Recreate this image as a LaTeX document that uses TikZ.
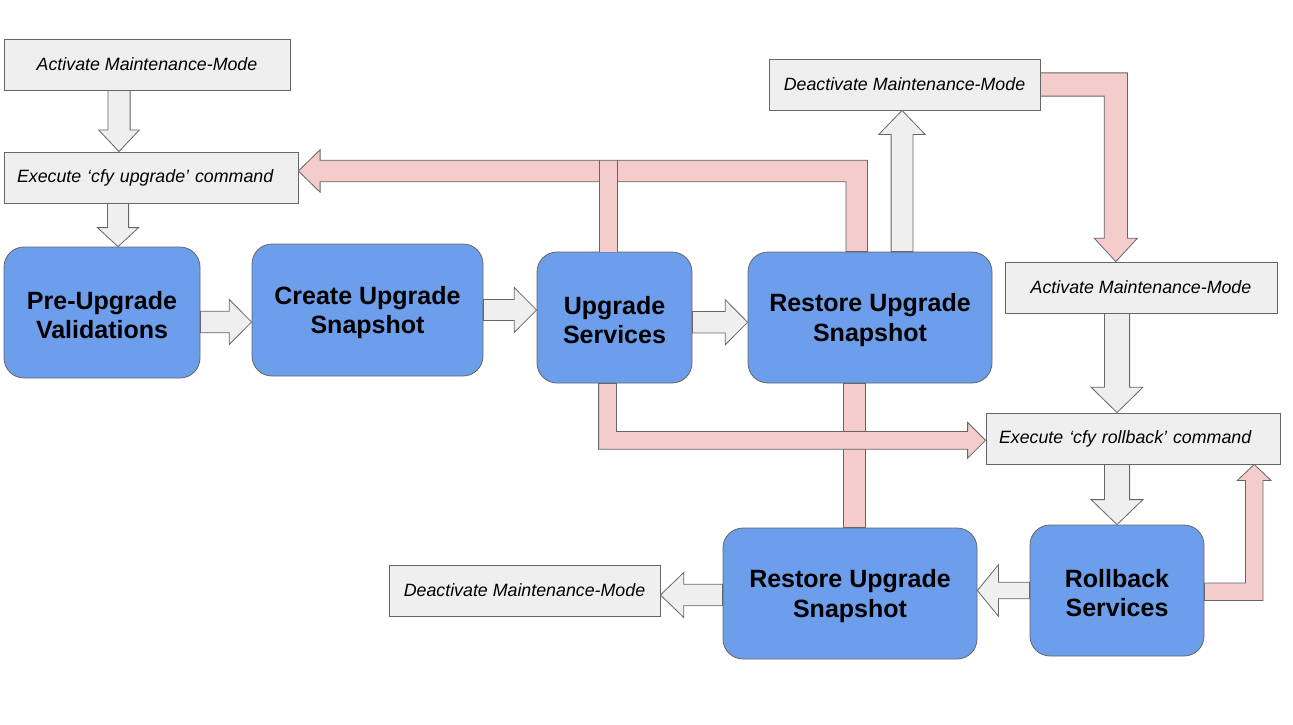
\documentclass[tikz,border=0pt]{standalone}
\usepackage{fontspec}
\setmainfont{Liberation Sans}
\usetikzlibrary{calc}

\definecolor{boxgrey}{HTML}{EFEFEF}
\definecolor{edgegrey}{HTML}{666666}
\definecolor{stepblue}{HTML}{6D9EEB}
\definecolor{failpink}{HTML}{F4CCCC}

\newcommand\bluestrut{\rule{0pt}{23pt}}

\tikzset{
  greybox/.style={draw=edgegrey, fill=boxgrey, line width=0.8pt, minimum height=51pt, inner sep=0pt,
    font=\fontsize{17.8}{21}\selectfont\itshape},
  cmdbox/.style={greybox, text width=268pt, inner xsep=13pt, align=left},
  bluebox/.style={draw=edgegrey, fill=stepblue, line width=0.8pt, rounded corners=20pt, minimum height=131pt,
    inner sep=0pt, align=center, font=\fontsize{25}{29.5}\selectfont\bfseries},
  blockedge/.style={draw=edgegrey, line width=0.8pt}
}

% straight block arrow: fill, half shaft, half head, head length, start, end
\newcommand\blockarrow[6]{%
  \coordinate (arS) at #5; \coordinate (arT) at #6;
  \coordinate (arH) at ($(arT)!#4pt!(arS)$);
  \draw[blockedge, fill=#1] ($(arS)!#2pt!90:(arT)$) -- ($(arH)!#2pt!90:(arT)$) -- ($(arH)!#3pt!90:(arT)$)
    -- (arT) -- ($(arH)!#3pt!-90:(arT)$) -- ($(arH)!#2pt!-90:(arT)$) -- ($(arS)!#2pt!-90:(arT)$) -- cycle;}
% bent block arrow: fill, half shaft, half head, head length, start, corner, end
\newcommand\bentarrow[7]{%
  \coordinate (arS) at #5; \coordinate (arK) at #6; \coordinate (arT) at #7;
  \coordinate (arH) at ($(arT)!#4pt!(arK)$);
  \draw[blockedge, fill=#1] ($(arS)!#2pt!90:(arK)$)
    -- ($(arK)!#2pt!90:(arT) + (arS)!#2pt!90:(arK) - (arS)$)
    -- ($(arH)!#2pt!90:(arT)$) -- ($(arH)!#3pt!90:(arT)$) -- (arT)
    -- ($(arH)!#3pt!-90:(arT)$) -- ($(arH)!#2pt!-90:(arT)$)
    -- ($(arK)!#2pt!-90:(arT) + (arS)!#2pt!-90:(arK) - (arS)$)
    -- ($(arS)!#2pt!-90:(arK)$) -- cycle;}

\begin{document}
\begin{tikzpicture}[x=1pt,y=1pt,yscale=-1]
        \useasboundingbox (0,0) rectangle (1293,725);

        %Shape: Rectangle
        \node[greybox, minimum width=286pt] (act1) at (147,64.5) {Activate Maintenance-Mode};
        \node[cmdbox] (exe1) at (151,177.5) {Execute ‘cfy upgrade’ command};
        \node[greybox, minimum width=271pt] (deact1) at (904.5,84.5) {Deactivate Maintenance-Mode};
        \node[greybox, minimum width=272pt] (act2) at (1141,287.5) {Activate Maintenance-Mode};
        \node[cmdbox] (exe2) at (1133,438.5) {Execute ‘cfy rollback’ command};
        \node[greybox, minimum width=271pt] (deact2) at (524.5,590.5) {Deactivate Maintenance-Mode};

        %Shape: Rounded Rectangle
        \node[bluebox, minimum width=196pt] (pre) at (102,312.5) {\bluestrut Pre-Upgrade\\Validations};
        \node[bluebox, minimum width=231pt, minimum height=132pt] (create) at (367.5,310) {\bluestrut Create Upgrade\\Snapshot};
        \node[bluebox, minimum width=155pt] (upg) at (614.5,317.5) {\bluestrut Upgrade\\Services};
        \node[bluebox, minimum width=244pt] (rest1) at (870,317.5) {\bluestrut Restore Upgrade\\Snapshot};
        \node[bluebox, minimum width=254pt] (rest2) at (850,593.5) {\bluestrut Restore Upgrade\\Snapshot};
        \node[bluebox, minimum width=174pt] (roll) at (1117,590.5) {\bluestrut Rollback\\Services};

        %Straight Lines: upgrade path
        \blockarrow{boxgrey}{11.1}{20.4}{21.7}{([xshift=-28pt]act1.south)}{([xshift=-28pt]act1.south |- exe1.north)}
        \blockarrow{boxgrey}{10.6}{20.6}{19}{([xshift=-33pt]exe1.south)}{([xshift=-33pt]exe1.south |- pre.north)}
        \blockarrow{boxgrey}{10.75}{22.6}{22.4}{([yshift=9.5pt]pre.east)}{([yshift=9.5pt]pre.east -| create.west)}
        \blockarrow{boxgrey}{10.45}{22.4}{22.3}{(create.east)}{(create.east -| upg.west)}
        \blockarrow{boxgrey}{10.75}{22.6}{22.4}{([yshift=4.7pt]upg.east)}{([yshift=4.7pt]upg.east -| rest1.west)}
        \blockarrow{boxgrey}{10.9}{23.1}{24}{([xshift=32pt]rest1.north)}{([xshift=32pt]rest1.north |- deact1.south)}

        %Straight Lines: rollback path
        \blockarrow{boxgrey}{12.6}{25.9}{25.4}{([xshift=-24pt]act2.south)}{([xshift=-24pt]act2.south |- exe2.north)}
        \blockarrow{boxgrey}{12.6}{25.9}{25}{([xshift=-16pt]exe2.south)}{([xshift=-16pt]exe2.south |- roll.north)}
        \blockarrow{boxgrey}{8.25}{25.8}{21}{(roll.west)}{(roll.west -| rest2.east)}
        \blockarrow{boxgrey}{10.75}{22.45}{23.3}{([yshift=1.5pt]rest2.west)}{([yshift=1.5pt]rest2.west -| deact2.east)}

        %Bent Lines: failure path
        \coordinate (bandL) at ([yshift=-6.5pt]exe1.east);
        \coordinate (actIn) at ([xshift=-25.2pt]act2.north);
        \coordinate (exeInL) at ([yshift=1.8pt]exe2.west);
        \coordinate (exeInB) at ([xshift=121.2pt]exe2.south);

        \bentarrow{failpink}{10.8}{21.25}{21.7}{([xshift=-13.3pt]rest1.north)}{([xshift=-13.3pt]rest1.north |- bandL)}{(bandL)}
        % stub from upgrade services, open into the band
        \coordinate (stubL) at ([xshift=-14.8pt]upg.north);
        \coordinate (stubR) at ([xshift=2.4pt]upg.north);
        \fill[failpink] (stubL) rectangle ([yshift=-9.8pt]stubR |- bandL);
        \draw[blockedge] (stubL) -- ([yshift=-10.8pt]stubL |- bandL) (stubR) -- ([yshift=-10.8pt]stubR |- bandL);

        \bentarrow{failpink}{11.6}{21.6}{23.4}{(deact1.east)}{(deact1.east -| actIn)}{(actIn)}
        \draw[blockedge, fill=failpink] ([xshift=-26.95pt]rest1.south) rectangle ([xshift=-4.45pt]rest1.south |- rest2.north);
        \bentarrow{failpink}{8.9}{17.95}{18}{([xshift=-7pt]upg.south)}{([xshift=-7pt]upg.south |- exeInL)}{(exeInL)}
        \bentarrow{failpink}{8.75}{16.8}{16}{([yshift=1.3pt]roll.east)}{([yshift=1.3pt]roll.east -| exeInB)}{(exeInB)}

\end{tikzpicture}
\end{document}
